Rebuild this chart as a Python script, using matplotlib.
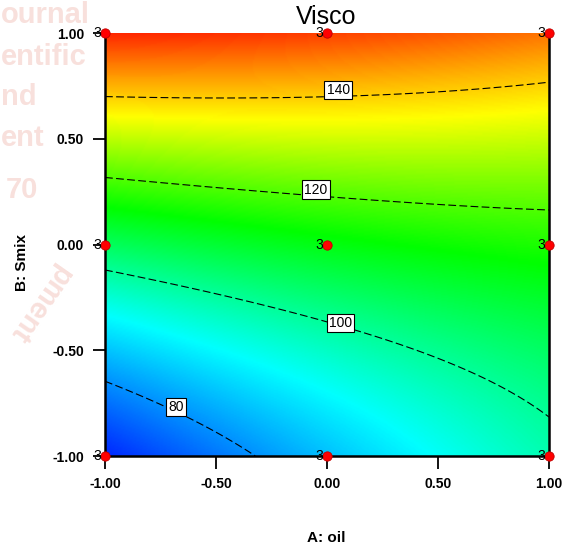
import numpy as np
import matplotlib.pyplot as plt
from matplotlib.colors import LinearSegmentedColormap

plt.rcParams['font.family'] = ['Liberation Sans', 'DejaVu Sans']

# design points (coded levels) and their replicate counts
pts_a = [-1, -1, -1, 0, 0, 0, 1, 1, 1]
pts_b = [-1, 0, 1, -1, 0, 1, -1, 0, 1]
pts_n = [3, 3, 3, 3, 3, 3, 3, 3, 3]

# quadratic model (coded units)
# Visco = b0 + b1*A + b2*B + b12*A*B + b11*A^2 + b22*B^2
b0, b1, b2, b12, b11, b22 = 111.7, 5.2, 34.9, -9.25, -1.3, 8.0

levels = [80, 100, 120, 140]
label_x = [-0.68, 0.06, -0.05, 0.05]
label_y = [-0.77, -0.37, 0.26, 0.73]

ticks = [-1.0, -0.5, 0.0, 0.5, 1.0]
tick_labels = ["-1.00", "-0.50", "0.00", "0.50", "1.00"]

a = np.linspace(-1, 1, 300)
A, B = np.meshgrid(a, a)
Z = b0 + b1*A + b2*B + b12*A*B + b11*A**2 + b22*B**2

cmap = LinearSegmentedColormap.from_list(
    'de', ['#0028ff', '#00ffff', '#00ff00', '#ffff00', '#ff2800'])

fig = plt.figure(figsize=(5.72, 5.52), dpi=100)

# faint journal watermark behind the plot
wm = dict(color='#f8e0dc', fontsize=21, fontweight='bold', zorder=0, va='center')
fig.text(0.002, 0.972, 'ournal', **wm)
fig.text(0.002, 0.897, 'entific', **wm)
fig.text(0.002, 0.824, 'nd', **wm)
fig.text(0.002, 0.750, 'ent', **wm)
fig.text(0.01, 0.656, '70', **wm)
fig.text(0.005, 0.45, 'pment', rotation=-125, **wm)

ax = fig.add_axes([0.1836, 0.1739, 0.7762, 0.7663])
ax.imshow(Z, extent=[-1, 1, -1, 1], origin='lower', cmap=cmap,
          vmin=Z.min(), vmax=Z.max(), aspect='auto', interpolation='bilinear')
ax.contour(A, B, Z, levels=levels, colors='black', linewidths=0.8,
           linestyles=[(0, (7, 3))])
for lv, x, y in zip(levels, label_x, label_y):
    ax.text(x, y, str(lv), fontsize=10, ha='center', va='center',
            bbox=dict(facecolor='white', edgecolor='black', linewidth=0.8, pad=1.5))

ax.scatter(pts_a, pts_b, s=45, color='#ff0000', edgecolor='#c00000',
           linewidth=0.6, zorder=5, clip_on=False)
for x, y, n in zip(pts_a, pts_b, pts_n):
    ax.annotate(str(n), (x, y), xytext=(-3, 0), textcoords='offset points',
                ha='right', va='center', fontsize=10, zorder=6,
                annotation_clip=False)

ax.set_xlim(-1, 1)
ax.set_ylim(-1, 1)
ax.set_xticks(ticks)
ax.set_xticklabels(tick_labels)
ax.set_yticks(ticks)
ax.set_yticklabels(tick_labels)
ax.tick_params(direction='out', length=9, width=1.3, labelsize=10, pad=6)
for lab in ax.get_xticklabels() + ax.get_yticklabels():
    lab.set_fontweight('bold')
ax.spines['top'].set_visible(False)
for s in ['left', 'bottom', 'right']:
    ax.spines[s].set_linewidth(1.8)

fig.text(0.571, 0.969, 'Visco', fontsize=18, ha='center', va='center')
fig.text(0.571, 0.025, 'A: oil', fontsize=11, fontweight='bold', ha='center', va='center')
fig.text(0.038, 0.525, 'B: Smix', fontsize=11, fontweight='bold', rotation=90,
         ha='center', va='center')

fig.savefig('out.png', dpi=100)
